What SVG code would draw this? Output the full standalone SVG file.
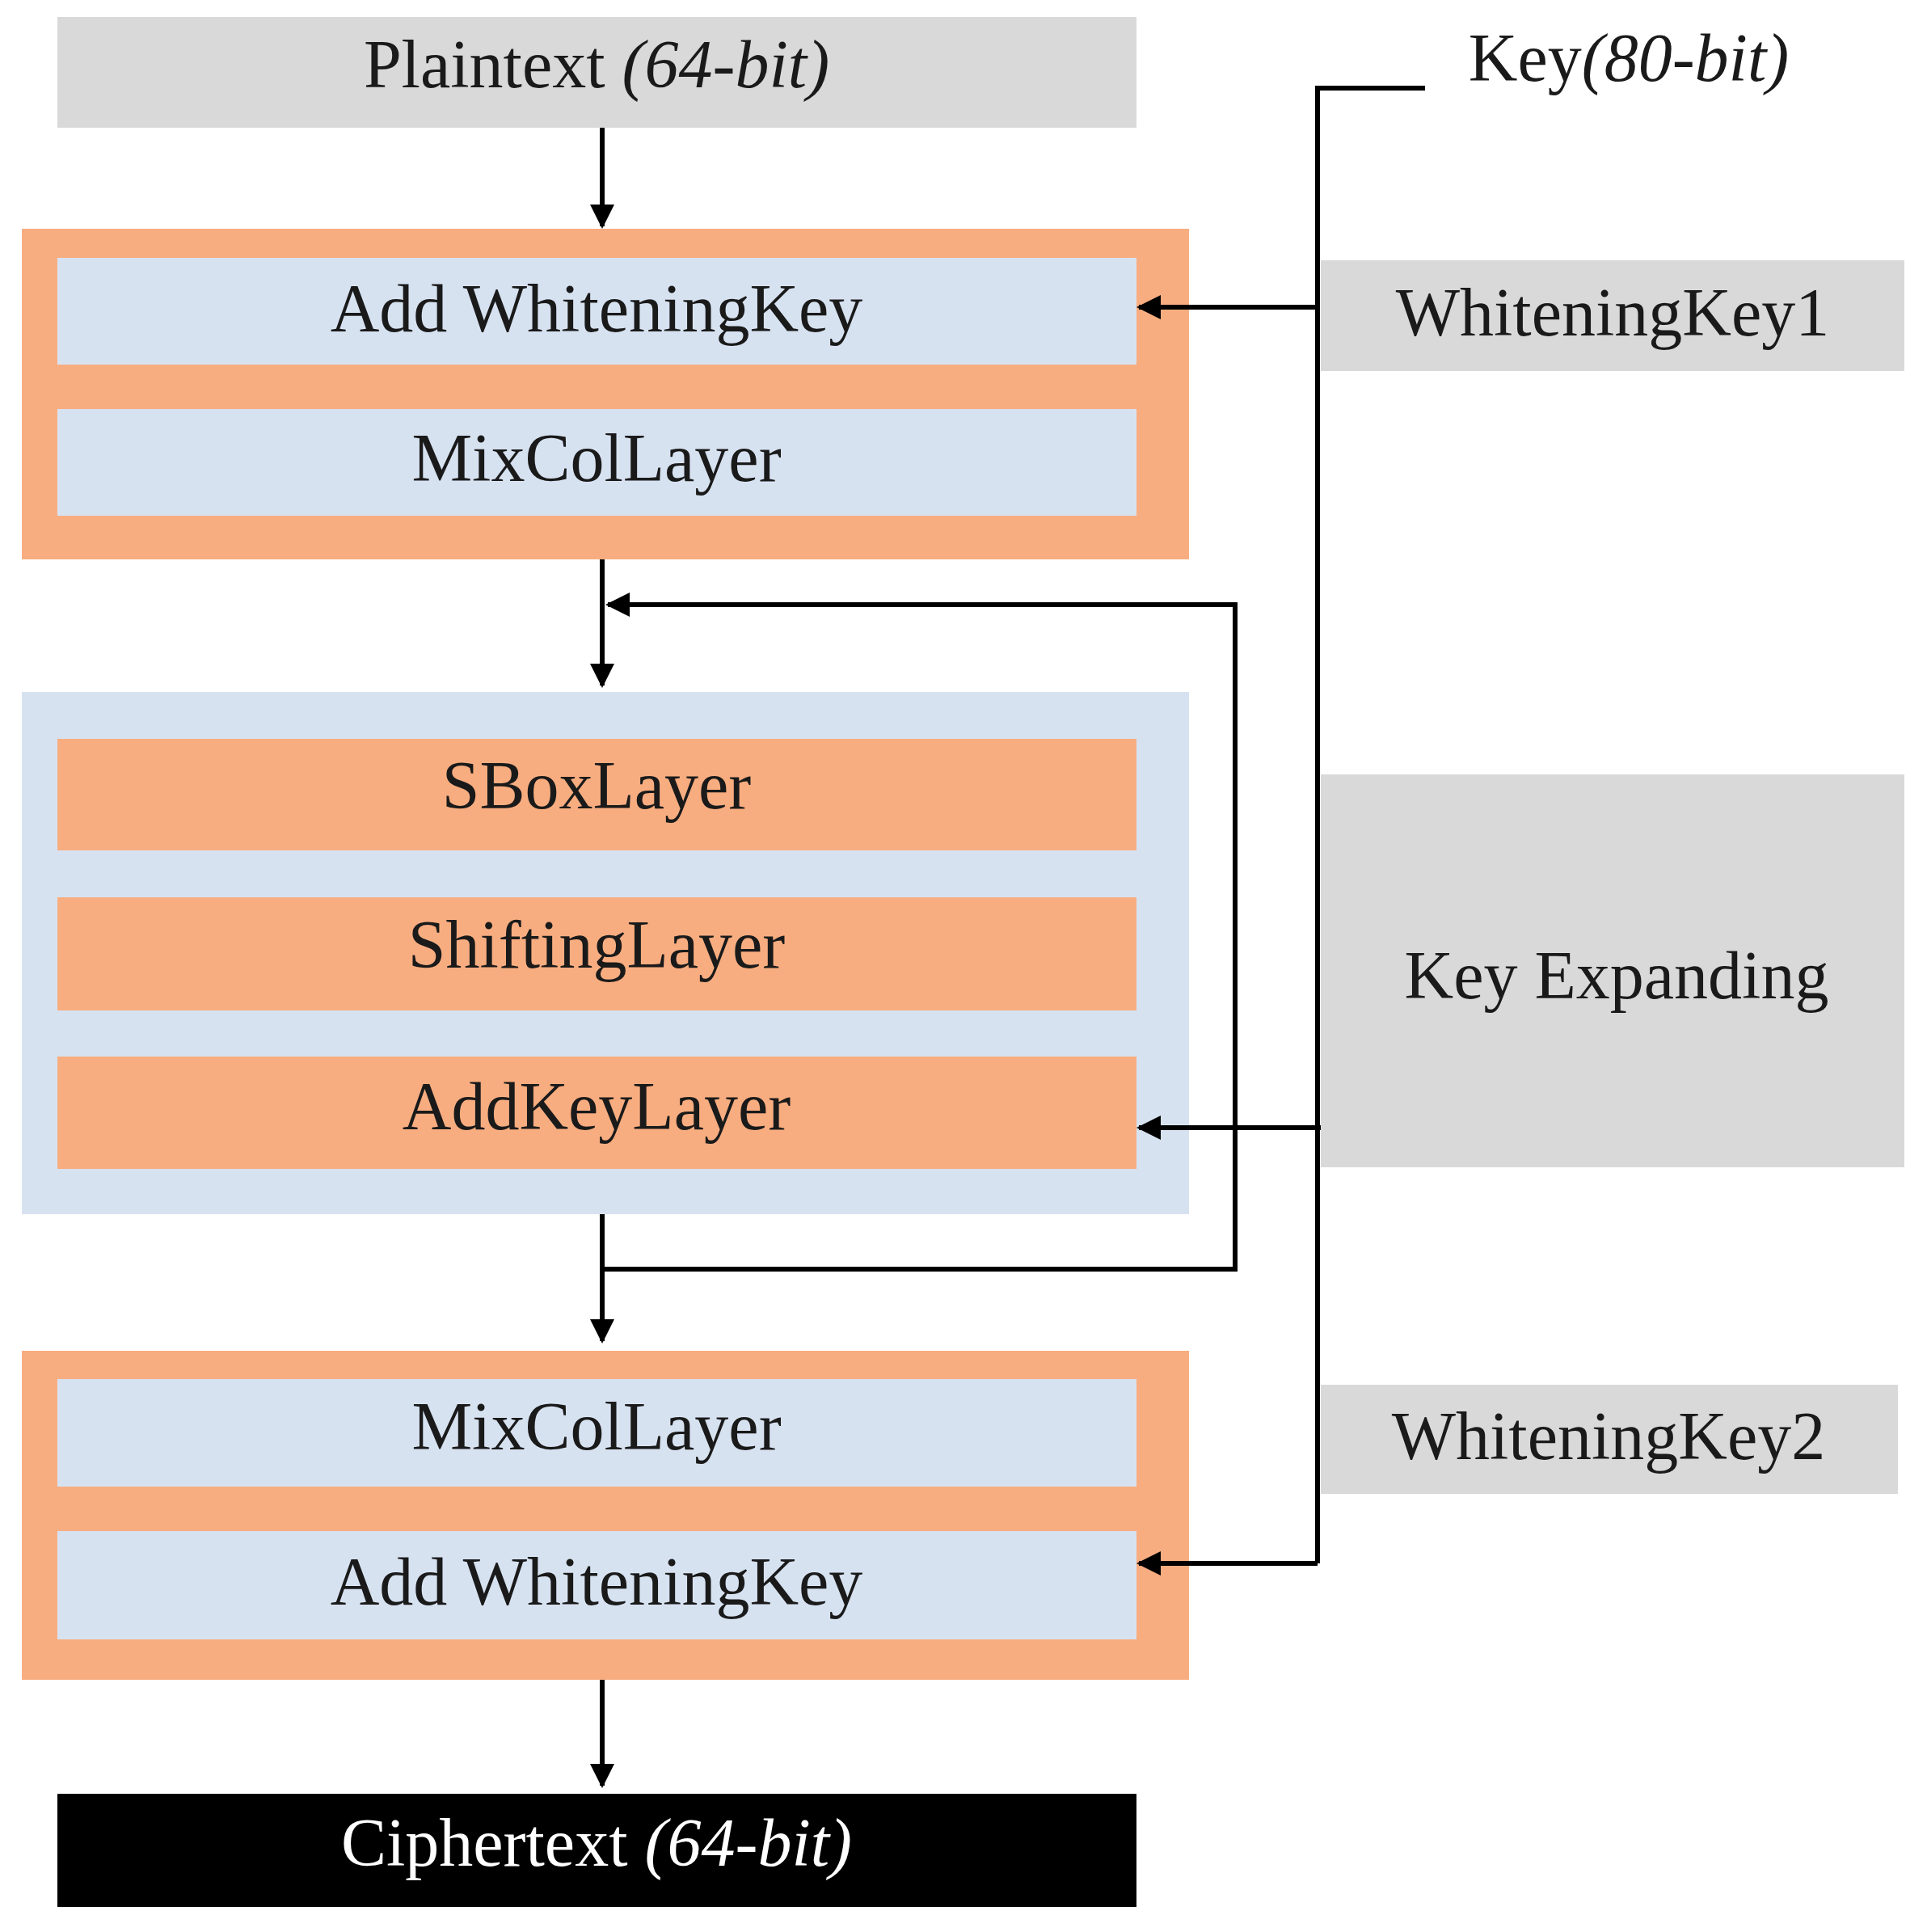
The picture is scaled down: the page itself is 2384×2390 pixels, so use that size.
<svg xmlns="http://www.w3.org/2000/svg" width="2384" height="2390" viewBox="0 0 2384 2390">
<style>
.t{font-family:"Liberation Serif",serif;font-size:84px;fill:#1a1a1a;text-anchor:middle}
.i{font-style:italic}
.g{fill:#d9d9d9}.o{fill:#f8ad80}.b{fill:#d7e2f1}
.l{stroke:#000;stroke-width:6;fill:none}
</style>
<defs><marker id="a" viewBox="0 0 10 10" refX="9" refY="5" markerWidth="5" markerHeight="5" orient="auto" markerUnits="strokeWidth"><path d="M0,0L10,5L0,10z" fill="#000"/></marker></defs>
<rect width="2384" height="2390" fill="#fff"/>
<g id="plaintext"><rect class="g" x="71" y="21" width="1335" height="137"/><text class="t" x="738" y="108">Plaintext <tspan class="i">(64-bit)</tspan></text></g>
<g id="block1"><rect class="o" x="27" y="283" width="1444" height="409"/>
<rect class="b" x="71" y="319" width="1335" height="132"/><text class="t" x="738" y="410">Add WhiteningKey</text>
<rect class="b" x="71" y="506" width="1335" height="132"/><text class="t" x="738" y="595">MixColLayer</text></g>
<g id="round"><rect class="b" x="27" y="856" width="1444" height="646"/>
<rect class="o" x="71" y="914" width="1335" height="138"/><text class="t" x="738" y="1000">SBoxLayer</text>
<rect class="o" x="71" y="1110" width="1335" height="140"/><text class="t" x="738" y="1197">ShiftingLayer</text>
<rect class="o" x="71" y="1307" width="1335" height="139"/><text class="t" x="738" y="1397">AddKeyLayer</text></g>
<g id="block2"><rect class="o" x="27" y="1671" width="1444" height="407"/>
<rect class="b" x="71" y="1706" width="1335" height="133"/><text class="t" x="738" y="1793">MixColLayer</text>
<rect class="b" x="71" y="1894" width="1335" height="134"/><text class="t" x="738" y="1985">Add WhiteningKey</text></g>
<g id="ciphertext"><rect x="71" y="2219" width="1335" height="140" fill="#000"/><text class="t" x="738" y="2308" style="fill:#fff">Ciphertext <tspan class="i">(64-bit)</tspan></text></g>
<g id="key"><text class="t" x="2015" y="100">Key<tspan class="i">(80-bit)</tspan></text></g>
<g id="wk1"><rect class="g" x="1634" y="322" width="722" height="137"/><text class="t" x="1995" y="415">WhiteningKey1</text></g>
<g id="keyexp"><rect class="g" x="1634" y="958" width="722" height="486"/><text class="t" x="2000" y="1235">Key Expanding</text></g>
<g id="wk2"><rect class="g" x="1634" y="1713" width="714" height="135"/><text class="t" x="1990" y="1805">WhiteningKey2</text></g>
<g id="connectors">
<path class="l" d="M745 158V280" marker-end="url(#a)"/>
<path class="l" d="M745 692V848" marker-end="url(#a)"/>
<path class="l" d="M745 1502V1659" marker-end="url(#a)"/>
<path class="l" d="M745 2078V2209" marker-end="url(#a)"/>
<path class="l" d="M745 1570H1528V748H752" marker-end="url(#a)"/>
<path class="l" d="M1763 109H1630V1934"/>
<path class="l" d="M1630 380H1409" marker-end="url(#a)"/>
<path class="l" d="M1634 1395H1409" marker-end="url(#a)"/>
<path class="l" d="M1630 1934H1409" marker-end="url(#a)"/>
</g>
</svg>
